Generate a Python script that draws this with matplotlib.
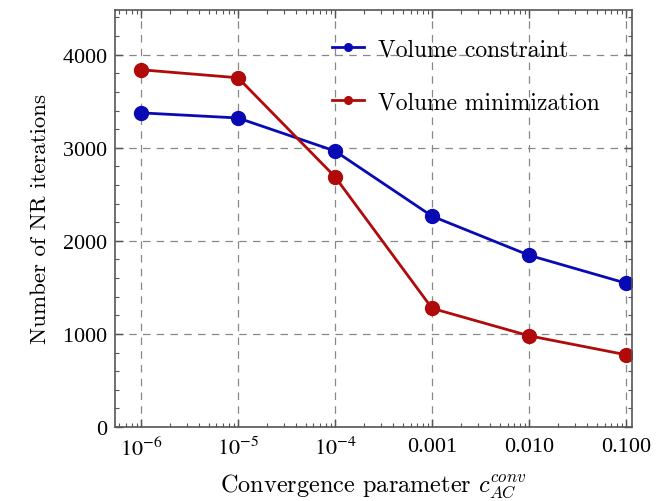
import matplotlib
matplotlib.use('Agg')
import matplotlib.pyplot as plt
from matplotlib.ticker import FixedLocator, FixedFormatter, MultipleLocator, LogLocator

# Datos
c_conv = [1e-6, 1e-5, 1e-4, 1e-3, 1e-2, 1e-1]
etiquetas_x = [r'$10^{-6}$', r'$10^{-5}$', r'$10^{-4}$', '0.001', '0.010', '0.100']
iter_restricao = [3375, 3320, 2965, 2265, 1845, 1545]
iter_minimizacao = [3838, 3752, 2688, 1275, 980, 776]

plt.rcParams['font.family'] = 'serif'
plt.rcParams['font.serif'] = ['cmr10', 'DejaVu Serif']
plt.rcParams['mathtext.fontset'] = 'cm'
plt.rcParams['axes.unicode_minus'] = False
plt.rcParams['axes.formatter.use_mathtext'] = True

fig = plt.figure(figsize=(6.61, 5.02), dpi=100)
ax = fig.add_axes([115 / 661, (502 - 428) / 502, (632 - 115) / 661, (428 - 11) / 502])

ax.plot(c_conv, iter_restricao, '-o', color='#0a0ab4', lw=2, ms=10,
        label='Volume constraint')
ax.plot(c_conv, iter_minimizacao, '-o', color='#b00a0a', lw=2, ms=10,
        label='Volume minimization')

ax.set_xscale('log')
ax.set_xlim(5.4e-7, 0.115)
ax.set_ylim(0, 4480)

ax.xaxis.set_major_locator(FixedLocator(c_conv))
ax.xaxis.set_major_formatter(FixedFormatter(etiquetas_x))
ax.xaxis.set_minor_locator(LogLocator(base=10, subs=range(2, 10), numticks=20))
ax.yaxis.set_major_locator(MultipleLocator(1000))
ax.yaxis.set_minor_locator(MultipleLocator(200))

ax.tick_params(which='both', direction='in', top=True, right=True, labelsize=16,
               color='#555555')
ax.tick_params(which='major', length=6, width=1)
ax.tick_params(which='minor', length=3, width=0.8)
ax.tick_params(axis='x', which='major', pad=7)
ax.tick_params(axis='y', which='major', pad=5)
for s in ax.spines.values():
    s.set_color('#555555')
    s.set_linewidth(1.2)

ax.grid(True, which='major', linestyle=(0, (6, 5)), color='#888888', lw=0.9)

ax.set_xlabel(r'Convergence parameter $c_{AC}^{conv}$', fontsize=17.5, labelpad=8)
ax.set_ylabel('Number of NR iterations', fontsize=16.5, labelpad=9)

fig.canvas.draw()
for lab in ax.get_xticklabels() + ax.get_yticklabels():
    lab.set_fontfamily('Liberation Serif')
    lab.set_math_fontfamily('stix')

ax.legend(loc='upper left', frameon=False, fontsize=17, labelspacing=1.33,
          handlelength=1.35, handletextpad=0.6, markerscale=0.55,
          borderaxespad=0, borderpad=0, bbox_to_anchor=(0.42, 0.933))

fig.savefig('out.png', dpi=100)
